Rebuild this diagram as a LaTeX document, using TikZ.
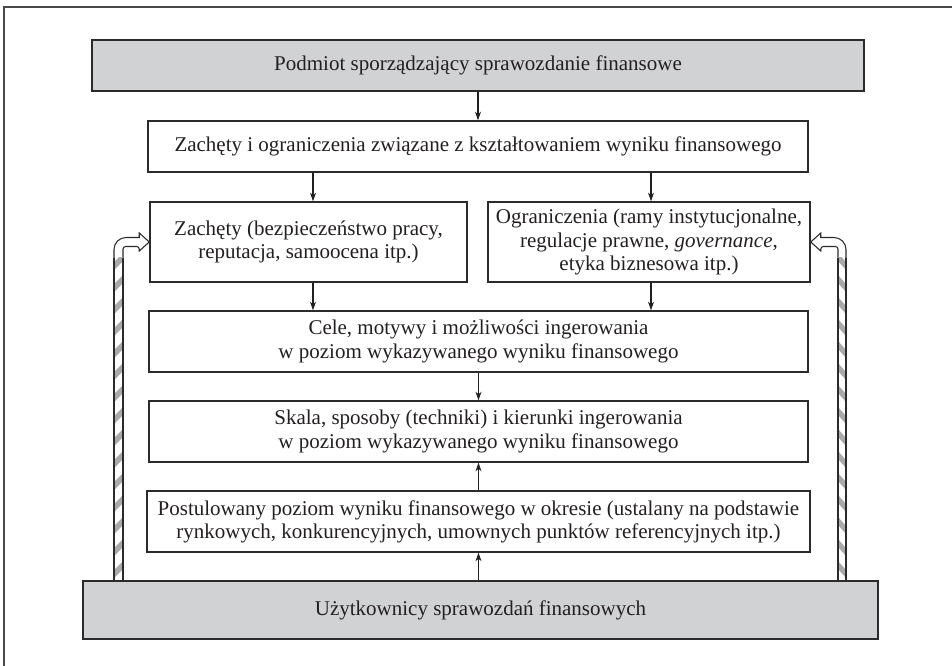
\documentclass[tikz,border=0pt]{standalone}
\usepackage{fontspec}
\setmainfont{Liberation Serif}
\usetikzlibrary{arrows.meta,calc}
\definecolor{boxgray}{HTML}{D1D2D4}
\definecolor{boxline}{HTML}{2B2B2B}
\definecolor{textcol}{HTML}{231F20}
\definecolor{framecol}{HTML}{4A4A4A}
\definecolor{stripecol}{HTML}{A9A9A9}
\begin{document}
\begin{tikzpicture}[x=0.75pt,y=-0.75pt,
  box/.style={draw=boxline,line width=1.1pt,inner sep=0pt,align=center,
    font=\fontsize{15.75}{17.4}\selectfont,text=textcol},
  gbox/.style={box,fill=boxgray},
  arr/.style={-{Stealth[length=6.5pt,width=4.5pt]},line width=0.8pt,draw=textcol},
  pipe/.style={draw=boxline,line width=0.8pt,fill=white},
  stripe/.style={fill=stripecol,draw=none}
]
\useasboundingbox (0,0) rectangle (952,666);
\draw[framecol,line width=1.5pt] (4,666) -- (4,7) -- (952,7);

\node[gbox,minimum width=579pt,minimum height=38.25pt] (top) at (478,65.5) {Podmiot sporządzający sprawozdanie finansowe};
\node[box,minimum width=495pt,minimum height=38.25pt] (zio) at (478,146.5) {Zachęty i ograniczenia związane z kształtowaniem wyniku finansowego};
\node[box,minimum width=237.75pt,minimum height=60pt] (zach) at (308.5,242) {Zachęty (bezpieczeństwo pracy,\\ reputacja, samoocena itp.)};
\node[box,minimum width=241.5pt,minimum height=60pt] (ogr) at (649,242) {Ograniczenia (ramy instytucjonalne,\\ regulacje prawne, \textit{governance},\\ etyka biznesowa itp.)};
\node[box,minimum width=494.25pt,minimum height=45.75pt] (cele) at (478.5,341.5) {Cele, motywy i możliwości ingerowania\\ w poziom wykazywanego wyniku finansowego};
\node[box,minimum width=494.25pt,minimum height=45.75pt] (skala) at (478.5,431.5) {Skala, sposoby (techniki) i kierunki ingerowania\\ w poziom wykazywanego wyniku finansowego};
\node[box,minimum width=497.25pt,minimum height=45.75pt] (post) at (478.5,521.5) {Postulowany poziom wyniku finansowego w okresie (ustalany na podstawie\\ rynkowych, konkurencyjnych, umownych punktów referencyjnych itp.)};

% striped feedback pipes
\coordinate (lt) at (zach.west);
\coordinate (rt) at (ogr.east);
\path[pipe] (lt) -- ++(-10,-9) -- ++(0,4.5) [rounded corners=9pt] -- (114,237.5) -- (114,600) [sharp corners] -- (123,600) [rounded corners=2pt] -- (123,246.5) -- ($(lt)+(-10,4.5)$) [sharp corners] -- ++(0,4.5) -- cycle;
\begin{scope}
  \clip (114,258) rectangle (123,600);
  \foreach \y in {262,284,...,600} {
    \fill[stripe] (114,\y) -- (123,\y-9) -- (123,\y-1) -- (114,\y+8) -- cycle;
  }
\end{scope}
\draw[boxline,line width=0.8pt] (114,258) -- (114,600) (123,258) -- (123,600);

\path[pipe] (rt) -- ++(10,-9) -- ++(0,4.5) [rounded corners=9pt] -- (846,237.5) -- (846,600) [sharp corners] -- (838,600) [rounded corners=2pt] -- (838,246.5) -- ($(rt)+(10,4.5)$) [sharp corners] -- ++(0,4.5) -- cycle;
\begin{scope}
  \clip (838,258) rectangle (846,600);
  \foreach \y in {262,284,...,600} {
    \fill[stripe] (838,\y-9) -- (846,\y) -- (846,\y+8) -- (838,\y-1) -- cycle;
  }
\end{scope}
\draw[boxline,line width=0.8pt] (838,258) -- (838,600) (846,258) -- (846,600);

\node[gbox,minimum width=596.25pt,minimum height=43.5pt] (user) at (480.5,610) {Użytkownicy sprawozdań finansowych};

\coordinate (xl) at (313,0);
\coordinate (xr) at (651,0);
\draw[arr] (top.south) -- (zio.north);
\draw[arr] (zio.south -| xl) -- (zach.north -| xl);
\draw[arr] (zio.south -| xr) -- (ogr.north -| xr);
\draw[arr] (zach.south -| xl) -- (cele.north -| xl);
\draw[arr] (ogr.south -| xr) -- (cele.north -| xr);
\draw[arr] (cele.south) -- (skala.north);
\draw[arr] (post.north -| skala.south) -- (skala.south);
\draw[arr] (user.north -| post.south) -- (post.south);
\end{tikzpicture}
\end{document}
